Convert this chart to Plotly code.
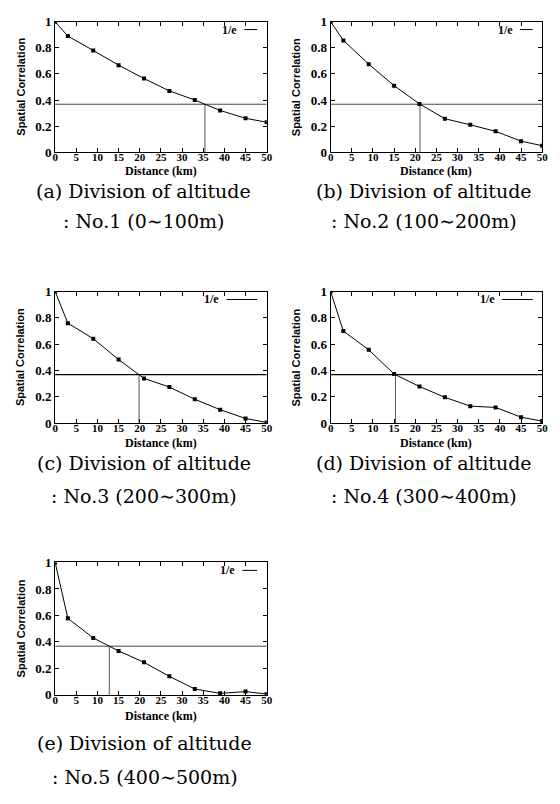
import numpy as np
import plotly.graph_objects as go

# ---------------- data ----------------
DIST_KM = [0, 3, 9, 15, 21, 27, 33, 39, 45, 50]
CORR_NO1 = [1.0, 0.89, 0.78, 0.667, 0.565, 0.47, 0.40, 0.32, 0.26, 0.23]
CORR_NO2 = [1.0, 0.857, 0.675, 0.51, 0.37, 0.257, 0.21, 0.16, 0.085, 0.05]
CORR_NO3 = [1.0, 0.76, 0.642, 0.483, 0.34, 0.274, 0.181, 0.102, 0.035, 0.005]
CORR_NO4 = [1.0, 0.70, 0.557, 0.373, 0.278, 0.196, 0.129, 0.119, 0.045, 0.015]
CORR_NO5 = [1.0, 0.578, 0.43, 0.332, 0.246, 0.14, 0.045, 0.012, 0.025, 0.007]
SERIES = [CORR_NO1, CORR_NO2, CORR_NO3, CORR_NO4, CORR_NO5]

INV_E = 1.0 / np.e
LEGEND_LABEL = "1/e"

X_TICKS = [0, 5, 10, 15, 20, 25, 30, 35, 40, 45, 50]
X_TICK_TEXT = [str(v) for v in X_TICKS]
Y_TICKS = [0, 0.2, 0.4, 0.6, 0.8, 1.0]
Y_TICK_TEXT = ["0", "0.2", "0.4", "0.6", "0.8", "1"]

X_TITLE = "Distance (km)"
Y_TITLE = "Spatial Correlation"
CAPTION_LINE1 = ["(a) Division of altitude", "(b) Division of altitude",
                 "(c) Division of altitude", "(d) Division of altitude",
                 "(e) Division of altitude"]
CAPTION_LINE2 = [": No.1 (0\u223c100m)", ": No.2 (100\u223c200m)",
                 ": No.3 (200\u223c300m)", ": No.4 (300\u223c400m)",
                 ": No.5 (400\u223c500m)"]

# ---------------- layout (pixels) ----------------
W, H = 560, 804
PANELS = [
    dict(x0=53, x1=268, y0=15, y1=148, xt=167, capx=143, cap1=187, cap2=218, key=(0.895, 0.955)),
    dict(x0=333, x1=548, y0=15, y1=148, xt=167, capx=428, cap1=187, cap2=218, key=(0.895, 0.955)),
    dict(x0=53, x1=268, y0=290, y1=424, xt=444, capx=143, cap1=465, cap2=498, key=(0.81, 0.955)),
    dict(x0=333, x1=548, y0=290, y1=424, xt=444, capx=428, cap1=465, cap2=498, key=(0.81, 0.955)),
    dict(x0=53, x1=268, y0=566, y1=701, xt=722, capx=144, cap1=750, cap2=785, key=(0.885, 0.955)),
]


def px_x(v):
    return v / W


def px_y(v):
    return 1 - v / H


def crossing(xs, ys, level):
    for i in range(len(xs) - 1):
        if ys[i] >= level >= ys[i + 1]:
            return xs[i] + (xs[i + 1] - xs[i]) * (ys[i] - level) / (ys[i] - ys[i + 1])
    return xs[-1]


fig = go.Figure()
annotations = []
shapes = []

tick_font = dict(family="Liberation Serif", size=11, color="black", weight="bold")
ytick_font = dict(family="Liberation Serif", size=13, color="black", weight="bold")

for k, (p, ys) in enumerate(zip(PANELS, SERIES)):
    n = "" if k == 0 else str(k + 1)
    xa, ya = "x" + n, "y" + n
    xcross = crossing(DIST_KM, ys, INV_E)
    key_dark = k in (2, 3)

    # 1/e horizontal line
    fig.add_trace(go.Scatter(
        x=[min(DIST_KM), max(DIST_KM)], y=[INV_E, INV_E], mode="lines",
        line=dict(color="black" if key_dark else "#444", width=1.2 if key_dark else 1),
        xaxis=xa, yaxis=ya, showlegend=False, name=LEGEND_LABEL, hoverinfo="skip"))
    # vertical drop line at crossing
    fig.add_trace(go.Scatter(
        x=[xcross, xcross], y=[0, INV_E], mode="lines",
        line=dict(color="#555", width=1),
        xaxis=xa, yaxis=ya, showlegend=False, hoverinfo="skip"))
    # data curve
    fig.add_trace(go.Scatter(
        x=DIST_KM, y=ys, mode="lines+markers",
        line=dict(color="black", width=1),
        marker=dict(symbol="square", size=4, color="black"),
        xaxis=xa, yaxis=ya, showlegend=False))

    xdom = [px_x(p["x0"]), px_x(p["x1"])]
    ydom = [px_y(p["y1"]), px_y(p["y0"])]
    fig.layout["xaxis" + n] = dict(
        domain=xdom, anchor=ya, range=[0, 50], tickvals=X_TICKS, ticktext=X_TICK_TEXT,
        ticks="inside", ticklen=4, tickcolor="black", showline=True, linecolor="black",
        linewidth=1, mirror="ticks", showgrid=False, zeroline=False, tickfont=tick_font,
        ticklabelstandoff=-5)
    fig.layout["yaxis" + n] = dict(
        domain=ydom, anchor=xa, range=[0, 1], tickvals=Y_TICKS, ticktext=Y_TICK_TEXT,
        ticks="inside", ticklen=4, tickcolor="black", showline=True, linecolor="black",
        linewidth=1, mirror="ticks", showgrid=False, zeroline=False, tickfont=ytick_font,
        ticklabelstandoff=0)

    cx = (p["x0"] + p["x1"]) / 2
    cy = (p["y0"] + p["y1"]) / 2
    # axis titles
    annotations.append(dict(
        text=X_TITLE, x=px_x(cx), y=px_y(p["xt"]), xref="paper", yref="paper",
        showarrow=False, xanchor="center", yanchor="middle",
        font=dict(family="Liberation Serif", size=12, color="black", weight="bold")))
    annotations.append(dict(
        text=Y_TITLE, x=px_x(p["x0"] - 35), y=px_y(cy), xref="paper", yref="paper",
        showarrow=False, xanchor="center", yanchor="middle", textangle=-90,
        font=dict(family="Liberation Sans", size=11, color="black", weight="bold")))
    # legend key: "1/e" followed by line sample
    annotations.append(dict(
        text=LEGEND_LABEL, x=p["key"][0] - 0.025, y=0.94, xref=xa + " domain", yref=ya + " domain",
        showarrow=False, xanchor="right", yanchor="middle",
        font=dict(family="Liberation Serif", size=12, color="black", weight="bold")))
    shapes.append(dict(
        type="line", xref=xa + " domain", yref=ya + " domain",
        x0=p["key"][0], x1=p["key"][1], y0=0.94, y1=0.94,
        line=dict(color="black", width=1)))
    # captions
    capx = px_x(p["capx"])
    annotations.append(dict(
        text=CAPTION_LINE1[k], x=capx, y=px_y(p["cap1"]), xref="paper", yref="paper",
        showarrow=False, xanchor="center", yanchor="middle",
        font=dict(family="DejaVu Serif", size=19, color="black")))
    annotations.append(dict(
        text=CAPTION_LINE2[k], x=capx, y=px_y(p["cap2"]), xref="paper", yref="paper",
        showarrow=False, xanchor="center", yanchor="middle",
        font=dict(family="DejaVu Serif", size=19, color="black")))

fig.update_layout(
    width=W, height=H, margin=dict(l=0, r=0, t=0, b=0),
    paper_bgcolor="white", plot_bgcolor="white",
    annotations=annotations, shapes=shapes, showlegend=False)

fig.write_html("out.html")
